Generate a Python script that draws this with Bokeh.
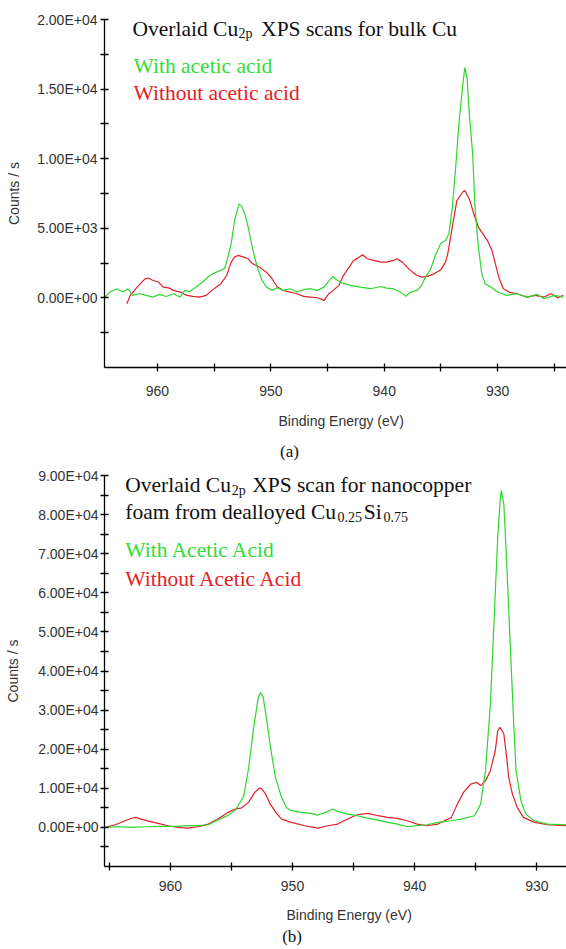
from bokeh.plotting import figure
from bokeh.layouts import column
from bokeh.models import Range1d, FixedTicker, Label, Title
from bokeh.embed import file_html
from bokeh.resources import INLINE

# ---------------- (a) bulk Cu ----------------
a_green_e = [964.7, 964.2, 963.6, 963.0, 962.6, 962.2, 961.6, 961.0, 960.4, 959.8, 959.2, 958.6,
             958.0, 957.6, 957.2, 956.6, 956.0, 955.4, 954.8, 954.1, 953.9, 953.5, 953.2, 952.8,
             952.6, 952.3, 952.0, 951.7, 951.4, 951.1, 950.8, 950.4, 949.9, 949.45, 948.9, 948.3,
             947.7, 947.1, 946.5, 945.9, 945.3, 944.9, 944.5, 944.2, 943.7, 943.0, 942.1, 941.2,
             940.3, 939.8, 939.2, 938.6, 938.1, 937.7, 937.1, 936.7, 936.4, 935.9, 935.5, 935.0,
             934.6, 934.3, 934.0, 933.7, 933.4, 933.1, 932.9, 932.7, 932.5, 932.2, 932.0, 931.7,
             931.4, 931.1, 930.6, 930.0, 929.2, 928.3, 927.4, 926.5, 925.9, 925.0, 924.2]
a_green_c = [0, 420, 660, 420, 660, 180, 300, 180, 60, 250, 100, 300,
             60, 540, 450, 780, 1140, 1610, 1850, 2090, 2570, 3880, 5560, 6750,
             6630, 6040, 5080, 3880, 2810, 1970, 1300, 780, 540, 730, 540, 660,
             420, 590, 660, 540, 780, 1210, 1540, 1300, 1060, 900, 780, 660,
             820, 700, 660, 420, 110, 420, 540, 900, 1450, 2090, 3050, 3950,
             4120, 4600, 6500, 9380, 12700, 15100, 16550, 15800, 13200, 10300, 6500, 3640,
             1730, 1000, 780, 420, 180, 300, 60, 250, -60, 180, 60]

a_red_e = [962.7, 962.4, 961.9, 961.5, 961.1, 960.8, 960.4, 959.9, 959.5, 959.0, 958.6, 958.0,
           957.4, 956.9, 956.3, 955.7, 955.2, 954.8, 954.4, 953.9, 953.5, 953.2, 952.9, 952.4,
           952.0, 951.6, 951.0, 950.4, 950.0, 949.45, 948.9, 948.3, 947.7, 947.1, 946.5, 945.9,
           945.3, 944.9, 944.5, 944.0, 943.6, 943.1, 942.7, 942.2, 941.9, 941.5, 940.9, 940.3,
           939.8, 939.2, 938.9, 938.4, 938.0, 937.5, 937.1, 936.7, 936.2, 935.6, 935.0, 934.6,
           934.4, 934.0, 933.6, 933.1, 932.9, 932.5, 932.1, 931.7, 931.4, 930.9, 930.5, 930.2,
           929.9, 929.5, 929.0, 928.3, 927.4, 926.7, 925.9, 925.3, 924.7, 924.2]
a_red_c = [-420, 180, 660, 1020, 1370, 1430, 1250, 1140, 780, 720, 540, 420,
           180, 110, 60, 180, 540, 780, 1020, 1610, 2570, 2930, 3050, 2930,
           2810, 2450, 2210, 1850, 1500, 800, 540, 420, 300, 110, 60, 10,
           -180, 300, 540, 900, 1610, 2210, 2690, 2930, 3100, 2810, 2690, 2570,
           2570, 2690, 2810, 2570, 2210, 1850, 1610, 1490, 1550, 1730, 2030, 2570,
           3170, 5080, 6990, 7590, 7710, 7110, 6030, 5080, 4710, 4120, 3400, 2450,
           1490, 660, 420, 300, 60, 180, 60, 300, 10, 180]

a_x_ticks = [960, 950, 940, 930]
a_x_minor = [955, 945, 935, 925]
a_y_ticks = [0, 5000, 10000, 15000, 20000]
a_y_labels = ["0.00E+00", "5.00E+03", "1.00E+04", "1.50E+04", "2.00E+04"]
a_y_minor = [-2500, 2500, 7500, 12500, 17500]

# ---------------- (b) nanocopper foam ----------------
b_green_e = [965.3, 964.3, 963.2, 962.0, 960.8, 959.6, 958.5, 957.7, 956.9, 956.1, 955.2, 954.6,
             954.0, 953.6, 953.2, 952.8, 952.6, 952.4, 952.1, 951.8, 951.4, 950.9, 950.5, 950.1,
             949.3, 948.5, 947.9, 947.3, 946.7, 946.3, 945.5, 944.7, 943.9, 943.0, 942.2, 941.4,
             940.6, 939.8, 939.0, 938.1, 937.0, 936.2, 935.1, 934.6, 934.2, 933.8, 933.5, 933.2,
             933.0, 932.9, 932.7, 932.5, 932.2, 931.9, 931.7, 931.3, 930.9, 930.2, 929.1, 927.6]
b_green_c = [0, 170, 0, 170, 250, 250, 430, 430, 680, 1880, 3200, 4700,
             8000, 15000, 25000, 33300, 34500, 33300, 27300, 20500, 12800, 7700, 5100, 4270,
             3840, 3580, 3160, 3840, 4690, 4100, 3410, 2990, 2390, 1880, 1280, 850,
             170, 430, 680, 1280, 1700, 2130, 2990, 5970, 14500, 31600, 52900, 74200,
             83600, 86200, 82700, 70000, 48600, 27300, 14500, 6800, 3400, 1700, 850, 680]

b_red_e = [965.3, 964.5, 963.7, 963.1, 962.8, 962.4, 961.7, 961.0, 960.2, 959.4, 958.6, 957.7,
           956.9, 956.1, 955.3, 954.7, 954.2, 953.6, 953.1, 952.7, 952.5, 952.2, 951.8, 951.3,
           950.9, 950.1, 949.0, 947.9, 947.1, 946.3, 945.5, 944.7, 943.8, 943.0, 942.2, 941.4,
           940.6, 939.8, 939.0, 938.1, 937.9, 937.0, 936.5, 936.0, 935.4, 934.9, 934.6, 934.2,
           933.8, 933.4, 933.2, 933.0, 932.7, 932.5, 932.3, 932.0, 931.6, 931.1, 930.2, 929.1,
           927.6]
b_red_c = [0, 680, 1700, 2400, 2560, 2130, 1540, 1020, 430, 0, -170, 170,
           850, 2130, 3840, 4700, 4950, 6400, 8960, 10070, 9800, 8530, 5800, 3600,
           2130, 1280, 430, -170, 430, 850, 2130, 3240, 3580, 2990, 2560, 2300,
           1700, 850, 430, 850, 1200, 2500, 5970, 8960, 11100, 11500, 10700, 11900,
           14500, 19600, 24700, 25600, 23900, 18800, 12800, 8530, 5120, 2560, 1280, 680,
           430]

b_x_ticks = [960, 950, 940, 930]
b_x_minor = [965, 955, 945, 935]
b_y_ticks = [0, 10000, 20000, 30000, 40000, 50000, 60000, 70000, 80000, 90000]
b_y_labels = ["0.00E+00", "1.00E+04", "2.00E+04", "3.00E+04", "4.00E+04",
              "5.00E+04", "6.00E+04", "7.00E+04", "8.00E+04", "9.00E+04"]
b_y_minor = [-5000, 5000, 15000, 25000, 35000, 45000, 55000, 65000, 75000, 85000]

GREEN = "#2ed62e"
RED = "#e0202a"
GREEN_TXT = "#33dd33"
RED_TXT = "#e62026"
SERIF = "Liberation Serif"
SANS = "Liberation Sans"
TICK_COL = "#333333"
BIG = "21.5px"
SUB = "14px"


def build(page_y, width, height, frame, xr, yr, xt, xm, yt, ylab, ym,
          green, red, label_std):
    fl, fr, ft, fb = frame  # page pixel coordinates of the frame
    p = figure(width=width, height=height,
               x_range=Range1d(*xr), y_range=Range1d(*yr),
               output_backend="svg", toolbar_location=None,
               min_border_left=fl, min_border_right=width - fr,
               min_border_top=ft - page_y, min_border_bottom=page_y + height - fb)
    p.outline_line_color = None
    p.grid.visible = False
    p.background_fill_color = "white"
    p.border_fill_color = "white"

    p.line(red[0], red[1], line_color=RED, line_width=1.2)
    p.line(green[0], green[1], line_color=GREEN, line_width=1.2)

    for ax in (p.xaxis[0], p.yaxis[0]):
        ax.axis_line_color = "black"
        ax.axis_line_width = 1.3
        ax.major_tick_line_color = "black"
        ax.minor_tick_line_color = "black"
        ax.major_tick_line_width = 1.3
        ax.minor_tick_line_width = 1.3
        ax.major_tick_in = 4
        ax.major_tick_out = 4
        ax.minor_tick_in = 4
        ax.minor_tick_out = 4
        ax.major_label_text_font = SANS
        ax.major_label_text_color = TICK_COL
        ax.major_label_text_font_size = "14px"

    xa = p.xaxis[0]
    xa.ticker = FixedTicker(ticks=xt, minor_ticks=xm)
    xa.major_label_standoff = label_std[0]

    ya = p.yaxis[0]
    ya.ticker = FixedTicker(ticks=yt, minor_ticks=ym)
    ya.major_label_overrides = {t: s for t, s in zip(yt, ylab)}
    ya.major_label_standoff = label_std[1]
    ya.axis_label = "Counts / s"
    ya.axis_label_text_font = SANS
    ya.axis_label_text_font_style = "normal"
    ya.axis_label_text_font_size = "14px"
    ya.axis_label_text_color = TICK_COL
    ya.axis_label_standoff = label_std[2]

    def to_data(px, py):
        x = xr[0] + (px - fl) * (xr[1] - xr[0]) / (fr - fl)
        y = yr[1] - (py - ft) * (yr[1] - yr[0]) / (fb - ft)
        return x, y

    def txt(s, px, py, size, color="#111111"):
        x, y = to_data(px, py)
        p.add_layout(Label(x=x, y=y, text=s, text_font=SERIF, text_font_size=size,
                           text_color=color, text_align="left", text_baseline="alphabetic"))

    def below(s, offset, standoff, font, size, color, valign):
        p.add_layout(Title(text=s, align="left", offset=offset, standoff=standoff,
                           vertical_align=valign, text_font=font, text_font_size=size,
                           text_font_style="normal", text_color=color), "below")

    return p, txt, below


pa, ta, ba = build(0, 566, 465, (104, 566, 19, 367), (964.67, 923.93), (-5000, 20000),
                   a_x_ticks, a_x_minor, a_y_ticks, a_y_labels, a_y_minor,
                   (a_green_e, a_green_c), (a_red_e, a_red_c), (14, 3, 12))
ta("Overlaid Cu", 132, 28, BIG)
ta("2p", 238, 33, SUB)
ta("XPS scans for bulk Cu", 260.6, 28, BIG)
ta("With acetic acid", 133, 65.7, BIG, GREEN_TXT)
ta("Without acetic acid", 133, 92.3, BIG, RED_TXT)
ba("Binding Energy (eV)", 174, 25, SANS, "14px", TICK_COL, "bottom")
ba("(a)", 175.6, 1, SERIF, "17px", "#111111", "top")

pb, tb, bb = build(465, 566, 484, (103, 566, 475, 866), (965.39, 927.57), (-10000, 90000),
                   b_x_ticks, b_x_minor, b_y_ticks, b_y_labels, b_y_minor,
                   (b_green_e, b_green_c), (b_red_e, b_red_c), (10, 2, 14))
tb("Overlaid Cu", 123.8, 484.7, BIG)
tb("2p", 230.5, 489.5, SUB)
tb("XPS scan for nanocopper", 251, 484.7, BIG)
tb("foam from dealloyed Cu", 123.8, 511.3, BIG)
tb("0.25", 336.5, 516, SUB)
tb("Si", 362.8, 511.3, BIG)
tb("0.75", 382.7, 516, SUB)
tb("With Acetic Acid", 123.8, 549.7, BIG, GREEN_TXT)
tb("Without Acetic Acid", 123.8, 578, BIG, RED_TXT)
bb("Binding Energy (eV)", 182, 23, SANS, "14px", TICK_COL, "bottom")
bb("(b)", 177.7, -16, SERIF, "17px", "#111111", "top")

layout = column(pa, pb)
open("out.html", "w").write(file_html(layout, INLINE))
